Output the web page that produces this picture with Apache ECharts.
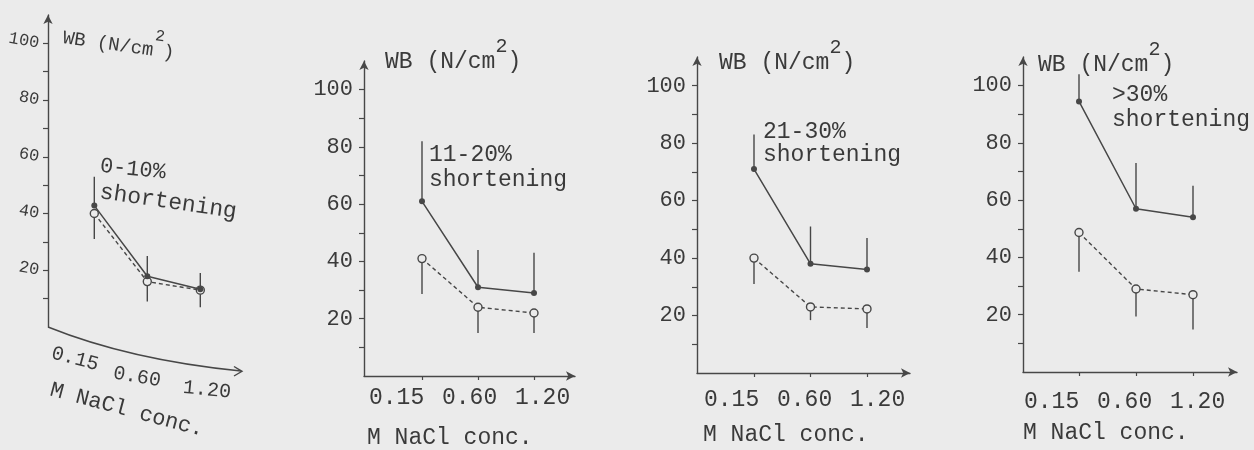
<!DOCTYPE html>
<html>
<head>
<meta charset="utf-8">
<script src="https://cdn.jsdelivr.net/npm/echarts@6/dist/echarts.min.js"></script>
<style>
html, body { margin: 0; padding: 0; background: #ebebeb; }
#chart { width: 1254px; height: 450px; }
</style>
</head>
<body>
<div id="chart"></div>
<script>
var concLabels = ['0.15', '0.60', '1.20'];
var groupLabels = ['0-10%', '11-20%', '21-30%', '>30%'];
var yTickValues = [10, 20, 30, 40, 50, 60, 70, 80, 90, 100];
var yLabelValues = [20, 40, 60, 80, 100];

// filled dots, solid line, bar drawn upward
var solid0to10 = [42.8, 17.9, 13.3];
var solid11to20 = [61, 31, 29];
var solid21to30 = [71, 38, 36];
var solidOver30 = [94.5, 57, 54];
var solidTop0to10 = [53, 25, 19];
var solidTop11to20 = [82, 44, 43];
var solidTop21to30 = [83, 51, 47];
var solidTopOver30 = [104, 73, 65];

// open dots, dashed line, bar drawn downward
var open0to10 = [40, 16, 13];
var open11to20 = [41, 24, 22];
var open21to30 = [40, 23, 22.3];
var openOver30 = [48.7, 29, 27];
var openLow0to10 = [31, 9, 7];
var openLow11to20 = [28.6, 15, 15];
var openLow21to30 = [31, 18.4, 15.7];
var openLowOver30 = [35, 19.4, 14.8];

var solidMeans = [solid0to10, solid11to20, solid21to30, solidOver30];
var solidTops = [solidTop0to10, solidTop11to20, solidTop21to30, solidTopOver30];
var openMeans = [open0to10, open11to20, open21to30, openOver30];
var openLows = [openLow0to10, openLow11to20, openLow21to30, openLowOver30];

var ink = '#474747';
var textInk = '#3a3a3a';
var paper = '#ebebeb';
var mono = "'Liberation Mono', 'Courier New', monospace";

// pixel layout of the four panels
var panels = [
    { left: 48, top: 15, width: 195, height: 312, first: 46.3, step: 53 },
    { left: 364, top: 61, width: 211, height: 315, first: 58, step: 56 },
    { left: 697, top: 57, width: 213, height: 316, first: 57, step: 56.5 },
    { left: 1023, top: 57, width: 214, height: 315, first: 56, step: 57 }
];

var chart = echarts.init(document.getElementById('chart'), null, { renderer: 'canvas' });

let errorBar = (params, api) => {
    var a = api.coord([api.value(0), api.value(1)]);
    var b = api.coord([api.value(0), api.value(2)]);
    return {
        type: 'line',
        shape: { x1: a[0], y1: a[1], x2: b[0], y2: b[1] },
        style: { stroke: ink, lineWidth: 1.4 }
    };
};

var grids = [], xAxes = [], yAxes = [], series = [];

panels.forEach(function (p, i) {
    grids.push({ left: p.left, top: p.top, width: p.width, height: p.height });
    xAxes.push({
        type: 'value',
        gridIndex: i,
        min: -p.first / p.step,
        max: (p.width - p.first) / p.step,
        axisLine: { show: i > 0, onZero: false, symbol: ['none', 'arrow'], symbolSize: [7, 9], lineStyle: { color: ink, width: 1.4 } },
        axisTick: { show: i > 0, customValues: [0, 1, 2], length: 4, lineStyle: { color: ink, width: 1.2 } },
        axisLabel: { show: false },
        splitLine: { show: false }
    });
    yAxes.push({
        type: 'value',
        gridIndex: i,
        min: 0,
        max: 110,
        axisLine: { show: true, onZero: false, symbol: ['none', 'arrow'], symbolSize: [7, 9], lineStyle: { color: ink, width: 1.4 } },
        axisTick: { show: true, customValues: yTickValues, length: 5, lineStyle: { color: ink, width: 1.2 } },
        axisLabel: {
            customValues: yLabelValues,
            margin: i === 0 ? 9 : 11,
            rotate: i === 0 ? -10 : 0,
            color: textInk,
            fontFamily: mono,
            fontSize: i === 0 ? 17 : 22
        },
        splitLine: { show: false }
    });
    series.push({
        type: 'custom',
        xAxisIndex: i, yAxisIndex: i,
        renderItem: errorBar,
        encode: { x: 0, y: [1, 2] },
        data: solidMeans[i].map((v, j) => [j, v, solidTops[i][j]]),
        silent: true, z: 1
    });
    series.push({
        type: 'custom',
        xAxisIndex: i, yAxisIndex: i,
        renderItem: errorBar,
        encode: { x: 0, y: [1, 2] },
        data: openMeans[i].map((v, j) => [j, v, openLows[i][j]]),
        silent: true, z: 1
    });
    series.push({
        type: 'line',
        xAxisIndex: i, yAxisIndex: i,
        data: solidMeans[i].map((v, j) => [j, v]),
        symbol: 'circle', symbolSize: 6,
        itemStyle: { color: ink },
        lineStyle: { color: ink, width: 1.5 },
        silent: true, z: 3
    });
    series.push({
        type: 'line',
        xAxisIndex: i, yAxisIndex: i,
        data: openMeans[i].map((v, j) => [j, v]),
        symbol: 'circle', symbolSize: 8,
        itemStyle: { color: paper, borderColor: ink, borderWidth: 1.4 },
        lineStyle: { color: ink, width: 1.4, type: [4, 3] },
        silent: true, z: 2
    });
});

let txt = (text, x, y, size, rot, align) => ({
    type: 'text', x: x, y: y, rotation: rot || 0, silent: true,
    style: {
        text: text, fill: textInk, fontFamily: mono, fontSize: size,
        align: align || 'left', textAlign: align || 'left',
        verticalAlign: 'middle', textVerticalAlign: 'middle',
        rich: { sup: { fontSize: size - 3, fontFamily: mono, fill: textInk, padding: [0, 0, 30, 0] } }
    }
});

var wbName = 'WB (N/cm{sup|2})';
var graphics = [];

// panel 1 (tilted in the scan)
graphics.push(txt(wbName, 63, 38, 19, -0.14));
graphics.push(txt(concLabels[0], 75, 359, 20, -0.26, 'center'));
graphics.push(txt(concLabels[1], 137, 377, 20, -0.17, 'center'));
graphics.push(txt(concLabels[2], 207, 390, 20, -0.1, 'center'));
graphics.push(txt('M NaCl conc.', 127, 410, 22, -0.26, 'center'));
graphics.push(txt(groupLabels[0], 100, 166, 22, -0.1));
graphics.push(txt('shortening', 100, 192, 23, -0.145));
graphics.push({
    type: 'bezierCurve', silent: true,
    shape: { x1: 48, y1: 327, x2: 241, y2: 371, cpx1: 130, cpy1: 360 },
    style: { stroke: ink, lineWidth: 1.4, fill: 'none' }
});
graphics.push({
    type: 'polyline', silent: true,
    shape: { points: [[234, 366.5], [242, 371.3], [234, 376]] },
    style: { stroke: ink, lineWidth: 1.4, fill: 'none' }
});

// panels 2-4
var wbPos = [null, [385, 62], [719, 63], [1038, 65]];
var catPos = [null, [369, 398], [704, 400], [1024, 402]];
var namePos = [null, [367, 438], [703, 435], [1023, 433]];
var notePos = [null, [429, 155, 180], [763, 132, 155], [1112, 95, 120]];
for (var k = 1; k < 4; k++) {
    graphics.push(txt(wbName, wbPos[k][0], wbPos[k][1], 23));
    concLabels.forEach(function (c, j) {
        graphics.push(txt(c, catPos[k][0] + j * 73, catPos[k][1], 23));
    });
    graphics.push(txt('M NaCl conc.', namePos[k][0], namePos[k][1], 23));
    graphics.push(txt(groupLabels[k], notePos[k][0], notePos[k][1], 23));
    graphics.push(txt('shortening', notePos[k][0], notePos[k][2], 23));
}

var option = {
    backgroundColor: paper,
    animation: false,
    grid: grids,
    xAxis: xAxes,
    yAxis: yAxes,
    series: series,
    graphic: graphics
};

chart.setOption(option);
</script>
</body>
</html>
